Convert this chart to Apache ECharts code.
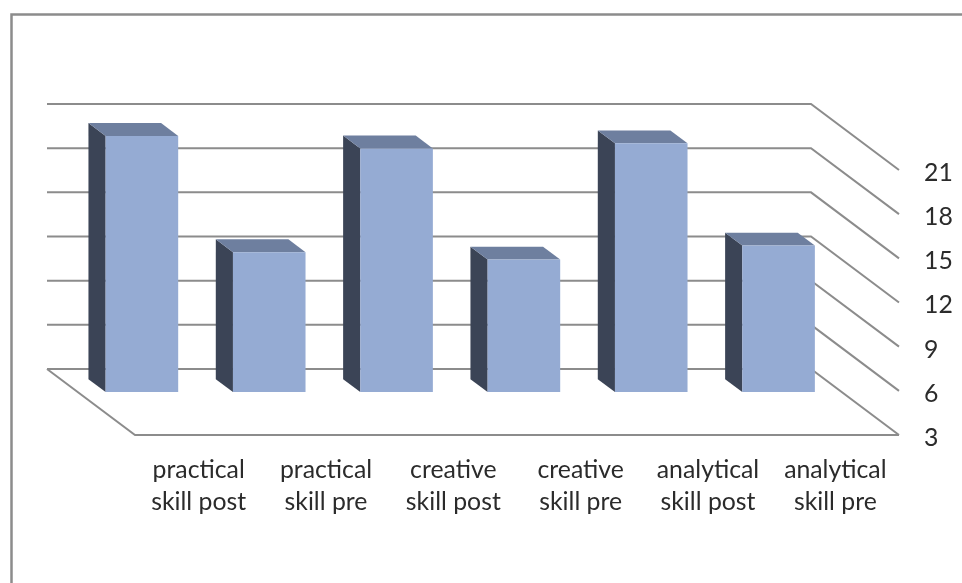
<!DOCTYPE html>
<html>
<head>
<meta charset="utf-8">
<style>html,body{margin:0;padding:0;background:#fff}#c{width:962px;height:583px}</style>
<script src="https://cdn.jsdelivr.net/npm/echarts@6/dist/echarts.min.js"></script>
</head>
<body>
<div id="c"></div>
<script>
const categories = ["practical\nskill post","practical\nskill pre","creative\nskill post","creative\nskill pre","analytical\nskill post","analytical\nskill pre"];
const values = [20.4, 12.5, 19.55, 12, 19.9, 12.95];
const ticks = [3, 6, 9, 12, 15, 18, 21];

const DEPTH_X = 88, DEPTH_Y = 66;
const BAR_PLACE = 0.645, BAR_DEPTH = 0.195, BAR_WIDTH = 0.57;
const LINE = '#8c8c8c', TEXT = '#2b2b2b';
const FONT = 'Lato, Carlito, sans-serif';

const chart = echarts.init(document.getElementById('c'), null, {renderer: 'canvas'});

function renderWall(params, api) {
  const cs = params.coordSys;
  const v = api.value(0);
  const y = api.coord([0, v])[1];
  const l = cs.x, r = cs.x + cs.width;
  const style = {stroke: LINE, lineWidth: 2, fill: null, lineJoin: 'miter'};
  const children = [{
    type: 'polyline',
    shape: {points: [[l - DEPTH_X, y - DEPTH_Y], [r - DEPTH_X, y - DEPTH_Y], [r, y]]},
    style: style
  }];
  if (v === ticks[0]) {
    children.push({
      type: 'polyline',
      shape: {points: [[l - DEPTH_X, y - DEPTH_Y], [l, y], [r, y]]},
      style: style
    });
  }
  return {type: 'group', children: children};
}

function renderBar(params, api) {
  const i = api.value(0), v = api.value(1);
  const band = api.size([1, 0])[0];
  const w = band * BAR_WIDTH;
  const c = api.coord([i, ticks[0]]);
  const t = api.coord([i, v]);
  const ox = -DEPTH_X * BAR_PLACE, oy = -DEPTH_Y * 0.65;
  const dx = -DEPTH_X * BAR_DEPTH, dy = -DEPTH_Y * BAR_DEPTH;
  const l = c[0] + ox - w / 2, r = l + w;
  const b = c[1] + oy, top = t[1] + oy;
  return {type: 'group', children: [
    {type: 'polygon', shape: {points: [[l, top], [l + dx, top + dy], [l + dx, b + dy], [l, b]]},
      style: {fill: '#3b4456'}},
    {type: 'polygon', shape: {points: [[l, top], [l + dx, top + dy], [r + dx, top + dy], [r, top]]},
      style: {fill: '#6e7f9f'}},
    {type: 'rect', shape: {x: l, y: top, width: w, height: b - top},
      style: {fill: '#95abd3'}}
  ]};
}

chart.setOption({
  animation: false,
  backgroundColor: '#fff',
  graphic: [{
    type: 'polyline',
    shape: {points: [[11.5, 583], [11.5, 14.5], [962, 14.5]]},
    style: {stroke: '#8c8c8c', lineWidth: 2.5, fill: null}
  }],
  grid: {left: 135, right: 63, top: 170, bottom: 148, containLabel: false},
  xAxis: {
    type: 'category',
    data: categories,
    axisLine: {show: false},
    axisTick: {show: false},
    splitLine: {show: false},
    axisLabel: {interval: 0, margin: 19, fontFamily: FONT, fontSize: 24.8, lineHeight: 32, color: TEXT}
  },
  yAxis: {
    type: 'value',
    position: 'right',
    min: 3, max: 21, interval: 3,
    axisLine: {show: false},
    axisTick: {show: false},
    splitLine: {show: false},
    axisLabel: {
      margin: 25,
      formatter: '{a|{value}}',
      rich: {a: {padding: [6, 0, 0, 0], fontFamily: FONT, fontSize: 24.8, color: TEXT}}
    }
  },
  series: [
    {type: 'custom', z: 1, silent: true, renderItem: renderWall,
      data: ticks.map(t => [t]), encode: {y: 0}},
    {type: 'custom', z: 2, silent: true, renderItem: renderBar,
      data: values.map((v, i) => [i, v]), encode: {x: 0, y: 1}}
  ]
});
</script>
</body>
</html>
